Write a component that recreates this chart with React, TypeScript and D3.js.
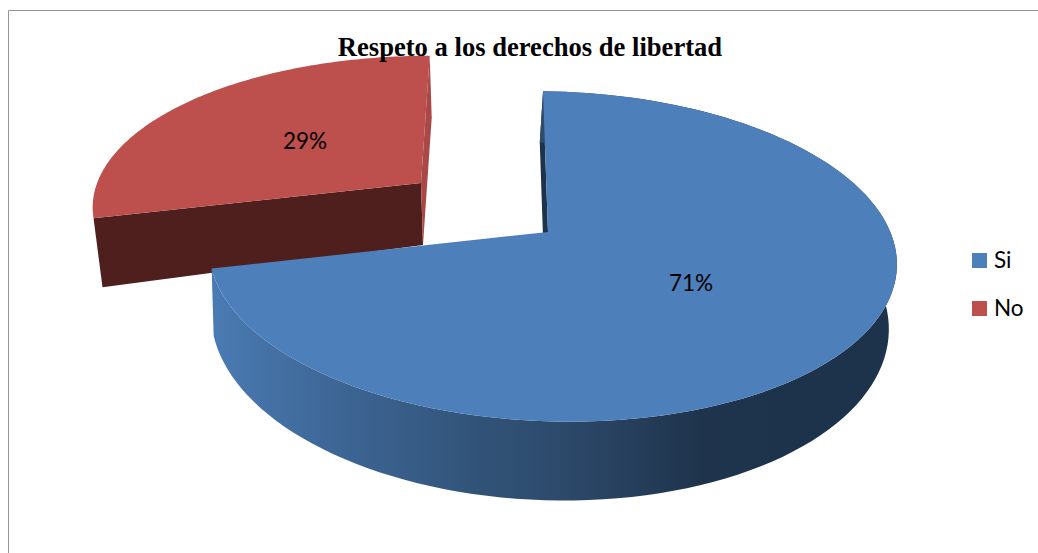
import React from "react";
import * as d3 from "d3";

const title = "Respeto a los derechos de libertad";
const categories = ["Si", "No"];
const shares = [71, 29];
const tickLabels = ["71%", "29%"];
const topColors = ["#4d7fbb", "#bd4f4c"];

type Proj = { ax: number; ay: number; f: number; s: number; g: number; t: number };
const K = 0.148;
const M = -0.012;
const project = (p: Proj, theta: number): [number, number] => {
  const X = Math.sin(theta);
  const Y = Math.cos(theta);
  const den = 1 + K * Y + M * X;
  return [p.ax + (p.f * X + p.s * Y) / den, p.ay + (-p.g * Y + p.t * X) / den];
};

const blueTop: Proj = { ax: 548, ay: 232, f: 340, s: -5.7, g: 161.5, t: 4.75 };
const blueBot: Proj = { ax: 545, ay: 295, f: 335, s: -6, g: 175, t: 4 };
const redTop: Proj = { ax: 421, ay: 183, f: 327, s: 10, g: 146, t: 2 };
const redBot: Proj = { ax: 423, ay: 245, f: 320, s: 10, g: 146, t: -5 };

const slices = d3.pie<number>().sort(null).startAngle(0).endAngle(2 * Math.PI)(shares);
const lineGen = d3.line();
const arcPts = (p: Proj, a: number, b: number) =>
  d3.range(0, 121).map((i) => project(p, a + ((b - a) * i) / 120));
const path = (pts: [number, number][]) => lineGen(pts) + "Z";

export default function App() {
  const blue = slices[0];
  const red = slices[1];
  const apex = (p: Proj): [number, number] => [p.ax, p.ay];
  const redFront = [apex(redTop), project(redTop, red.startAngle), project(redBot, red.startAngle), apex(redBot)];
  const redInner = [apex(redTop), project(redTop, red.endAngle), project(redBot, red.endAngle), apex(redBot)];
  const blueInner = [apex(blueTop), project(blueTop, blue.startAngle), project(blueBot, blue.startAngle), apex(blueBot)];
  const blueWall = [
    ...arcPts(blueTop, blue.startAngle, blue.endAngle),
    ...arcPts(blueBot, blue.startAngle, blue.endAngle).reverse(),
  ];
  return (
    <svg width={1038} height={553} style={{ position: "absolute", left: 0, top: 0, background: "#fff" }}>
      <defs>
        <linearGradient id="wall" gradientUnits="userSpaceOnUse" x1={211} x2={780} y1={0} y2={0}>
          <stop offset="0" stopColor="#4a7bb3" />
          <stop offset="0.21" stopColor="#3e6797" />
          <stop offset="0.47" stopColor="#315378" />
          <stop offset="0.61" stopColor="#2d4a6c" />
          <stop offset="0.86" stopColor="#1f344c" />
          <stop offset="1" stopColor="#1d334c" />
        </linearGradient>
      </defs>
      <path d="M1038,10.5H8.5V553" fill="none" stroke="#969696" strokeWidth={1} />
      <path d={path(redFront)} fill="#4f1f1e" />
      <path d={path(redInner)} fill="#a94846" />
      <path d={path([apex(redTop), ...arcPts(redTop, red.startAngle, red.endAngle)])} fill={topColors[1]} />
      <path d={path(blueInner)} fill="#1d334c" />
      <path d={path(blueWall)} fill="url(#wall)" />
      <path d={path([apex(blueTop), ...arcPts(blueTop, blue.startAngle, blue.endAngle)])} fill={topColors[0]} />
      <text x={530} y={56} textAnchor="middle" fontFamily="'Liberation Serif'" fontWeight="bold" fontSize={26.6} fill="#000">{title}</text>
      <text x={691} y={291} textAnchor="middle" fontFamily="Lato" fontSize={22.5} fill="#000">{tickLabels[0]}</text>
      <text x={305} y={149} textAnchor="middle" fontFamily="Lato" fontSize={22.5} fill="#000">{tickLabels[1]}</text>
      {categories.map((c, i) => (
        <g key={c}>
          <rect x={972} y={253 + i * 48} width={15} height={15} fill={topColors[i]} />
          <text x={994} y={268 + i * 48} fontFamily="Lato" fontSize={22.5} fill="#000">{c}</text>
        </g>
      ))}
    </svg>
  );
}
